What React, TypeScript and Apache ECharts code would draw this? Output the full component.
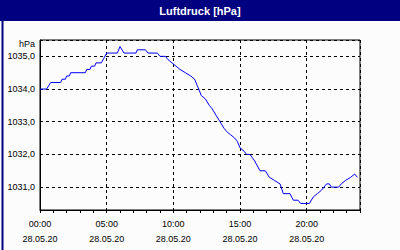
import React, { useEffect, useRef } from "react";
import * as echarts from "echarts";

const titleText = "Luftdruck [hPa]";
const unitText = "hPa";
const hourLabels = ["00:00", "05:00", "10:00", "15:00", "20:00"];
const dateLabel = "28.05.20";

// hours since 00:00
const hours = [
  0.0, 0.5, 0.8, 1.55, 1.65, 1.9, 2.0, 2.2, 2.3, 3.4, 3.5, 3.75, 3.85, 4.1, 4.2, 4.6,
  5.0, 5.8, 6.0, 6.3, 7.2, 7.3, 7.9, 8.1, 8.8, 9.0, 9.4, 9.6, 9.9, 10.2, 10.5, 10.9,
  11.3, 11.6, 11.8, 11.9, 12.1, 12.4, 12.7, 12.9, 13.2, 13.5, 13.8, 14.0, 14.3, 14.6,
  14.8, 15.0, 15.3, 15.5, 15.75, 16.1, 16.5, 16.9, 17.2, 17.6, 18.0, 18.25, 18.75,
  19.0, 19.35, 19.55, 20.2, 20.5, 20.8, 21.1, 21.3, 21.5, 21.7, 21.85, 22.4, 22.6,
  22.9, 23.3, 23.6, 23.8,
];
// pressure in hPa
const pressure = [
  1034.0, 1034.0, 1034.2, 1034.2, 1034.3, 1034.3, 1034.4, 1034.4, 1034.5, 1034.5,
  1034.6, 1034.6, 1034.7, 1034.7, 1034.8, 1034.8, 1035.1, 1035.1, 1035.3, 1035.1,
  1035.1, 1035.2, 1035.2, 1035.1, 1035.1, 1035.0, 1035.0, 1034.9, 1034.8, 1034.7,
  1034.6, 1034.5, 1034.4, 1034.3, 1034.1, 1034.0, 1033.8, 1033.7, 1033.5, 1033.4,
  1033.2, 1033.0, 1032.8, 1032.7, 1032.6, 1032.5, 1032.4, 1032.2, 1032.1, 1032.0,
  1032.0, 1031.8, 1031.5, 1031.5, 1031.3, 1031.2, 1031.1, 1030.8, 1030.8, 1030.6,
  1030.6, 1030.5, 1030.5, 1030.7, 1030.8, 1030.9, 1031.0, 1031.1, 1031.1, 1031.0,
  1031.0, 1031.1, 1031.2, 1031.3, 1031.4, 1031.3,
];

const FONT = "'Liberation Sans', Arial, sans-serif";

export default function App() {
  const ref = useRef<HTMLDivElement>(null);
  useEffect(() => {
    if (!ref.current) return;
    const chart = echarts.init(ref.current, null, { renderer: "svg" });
    const data = hours.map((h, i) => [h, pressure[i]]);
    chart.setOption({
      animation: false,
      backgroundColor: "#fcfcfc",
      textStyle: { fontFamily: FONT },
      grid: {
        left: 40,
        top: 40,
        right: 40,
        bottom: 40,
        show: true,
        borderColor: "#000",
        borderWidth: 1,
        backgroundColor: "transparent",
      },
      xAxis: [
        {
          type: "value",
          min: 0,
          max: 24,
          interval: 5,
          position: "bottom",
          axisLine: { show: true, lineStyle: { color: "#000", width: 1 } },
          axisTick: { show: false },
          splitLine: { show: true, lineStyle: { color: "#000", type: [3, 3], width: 1 } },
          axisLabel: {
            show: true,
            showMaxLabel: false,
            margin: 7,
            color: "#000",
            fontFamily: FONT,
            fontSize: 9,
            lineHeight: 14.5,
            formatter: (v: number) => {
              const idx = Math.round(v / 5);
              if (v % 5 !== 0 || idx >= hourLabels.length) return "";
              return hourLabels[idx] + "\n" + dateLabel;
            },
          },
        },
        {
          type: "value",
          min: 0,
          max: 24,
          interval: 1,
          position: "bottom",
          axisLine: { show: false },
          axisLabel: { show: false },
          splitLine: { show: false },
          axisTick: { show: true, length: 3, lineStyle: { color: "#000", width: 1 } },
        },
      ],
      yAxis: {
        type: "value",
        min: 1030.3,
        max: 1035.5,
        splitNumber: 5,
        axisLine: { show: true, lineStyle: { color: "#000", width: 1 } },
        axisTick: { show: false },
        splitLine: { show: true, lineStyle: { color: "#000", type: [3, 3], width: 1 } },
        axisLabel: {
          showMinLabel: false,
          showMaxLabel: false,
          margin: 5,
          color: "#000",
          fontFamily: FONT,
          fontSize: 9,
          formatter: (v: number) => v.toFixed(1).replace(".", ","),
        },
      },
      series: [
        {
          type: "line",
          xAxisIndex: 0,
          data,
          showSymbol: false,
          symbol: "none",
          lineStyle: { color: "#0000ff", width: 1 },
        },
      ],
      graphic: [
        {
          type: "rect",
          left: 0,
          top: 0,
          shape: { x: 0, y: 0, width: 400, height: 250 },
          style: { fill: "none", stroke: "#000080", lineWidth: 2 },
          silent: true,
          z: 100,
        },
        {
          type: "rect",
          shape: { x: 0, y: 0, width: 400, height: 21 },
          style: { fill: "#000080" },
          silent: true,
          z: 100,
        },
        {
          type: "text",
          x: 200,
          y: 11,
          style: {
            text: titleText,
            fill: "#ffffff",
            font: `bold 11px ${FONT}`,
            textAlign: "center",
            textVerticalAlign: "middle",
          },
          z: 101,
        },
        {
          type: "text",
          x: 35,
          y: 44,
          style: {
            text: unitText,
            fill: "#000",
            font: `9px ${FONT}`,
            textAlign: "right",
            textVerticalAlign: "middle",
          },
          z: 101,
        },
      ],
    });
    return () => chart.dispose();
  }, []);
  return (
    <div
      ref={ref}
      style={{ position: "fixed", left: 0, top: 0, width: 400, height: 250 }}
    />
  );
}
